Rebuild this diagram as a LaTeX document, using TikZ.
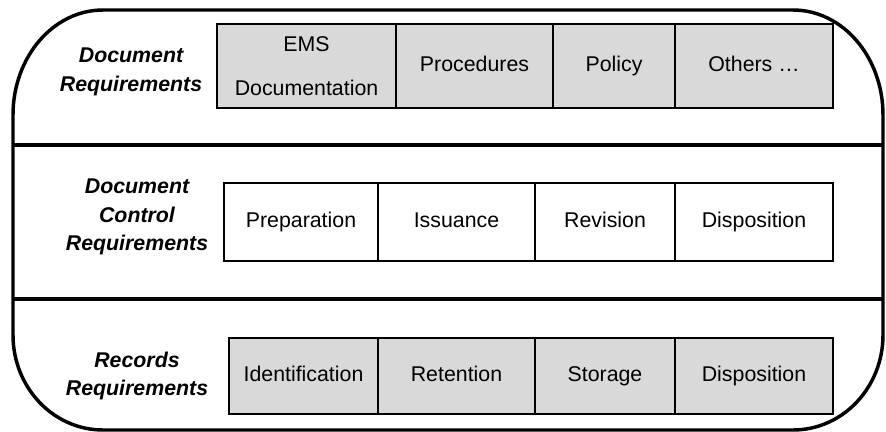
\documentclass[tikz,border=0pt]{standalone}
\usepackage{fontspec}
\setmainfont{Liberation Sans}
\usetikzlibrary{positioning}
\tikzset{
  cell/.style={draw, line width=1pt, inner sep=0pt, align=center,
    text height=11.5pt, text depth=3pt,
    font=\fontsize{16}{21.5}\selectfont},
  greycell/.style={cell, fill=black!15},
  rowlabel/.style={align=center, font=\fontsize{16}{21.5}\selectfont\bfseries\itshape}
}
\begin{document}
\begin{tikzpicture}[x=0.75pt,y=0.75pt]
  \useasboundingbox (0,0) rectangle (886,-432);
  % outer frame
  \draw[line width=2.6pt] (103,-10) -- (793,-10)
    arc[start angle=90,end angle=0,x radius=90,y radius=105] -- (883,-335)
    arc[start angle=0,end angle=-90,x radius=90,y radius=95] -- (103,-430)
    arc[start angle=270,end angle=180,x radius=90,y radius=95] -- (13,-115)
    arc[start angle=180,end angle=90,x radius=90,y radius=105] -- cycle;
  \draw[line width=2.3pt] (13,-145) -- (883,-145);
  \draw[line width=2.3pt] (13,-299) -- (883,-299);
  % row labels
  \node[rowlabel] (docreq) at (131,-72) {Document\\Requirements};
  \node[rowlabel] (ctrlreq) at (137,-217) {Document\\Control\\Requirements};
  \node[rowlabel] (recreq) at (137,-376) {Records\\Requirements};
  % top row
  \node[greycell, text height=, text depth=, minimum width=134.25pt,
    minimum height=63pt] (ems) at (306.5,-66) {EMS\\[11pt]Documentation};
  \foreach \nm/\xa/\xb/\txt in {proc/396/553/Procedures, pol/553/675/Policy,
      oth/675/833/{Others …}}{
    \node[greycell, minimum width={(\xb-\xa)*0.75pt}, minimum height=63pt]
      (\nm) at ({(\xa+\xb)/2},-66) {\txt};
  }
  % middle row
  \foreach \nm/\xa/\xb/\txt in {prep/224/378/Preparation, iss/378/535/Issuance,
      rev/535/675/Revision, dispA/675/833/Disposition}{
    \node[cell, minimum width={(\xb-\xa)*0.75pt}, minimum height=58.5pt]
      (\nm) at ({(\xa+\xb)/2},-222) {\txt};
  }
  % bottom row
  \foreach \nm/\xa/\xb/\txt in {ident/229/378/Identification, ret/378/535/Retention,
      stor/535/675/Storage, dispB/675/833/Disposition}{
    \node[greycell, minimum width={(\xb-\xa)*0.75pt}, minimum height=57pt]
      (\nm) at ({(\xa+\xb)/2},-376) {\txt};
  }
\end{tikzpicture}
\end{document}
